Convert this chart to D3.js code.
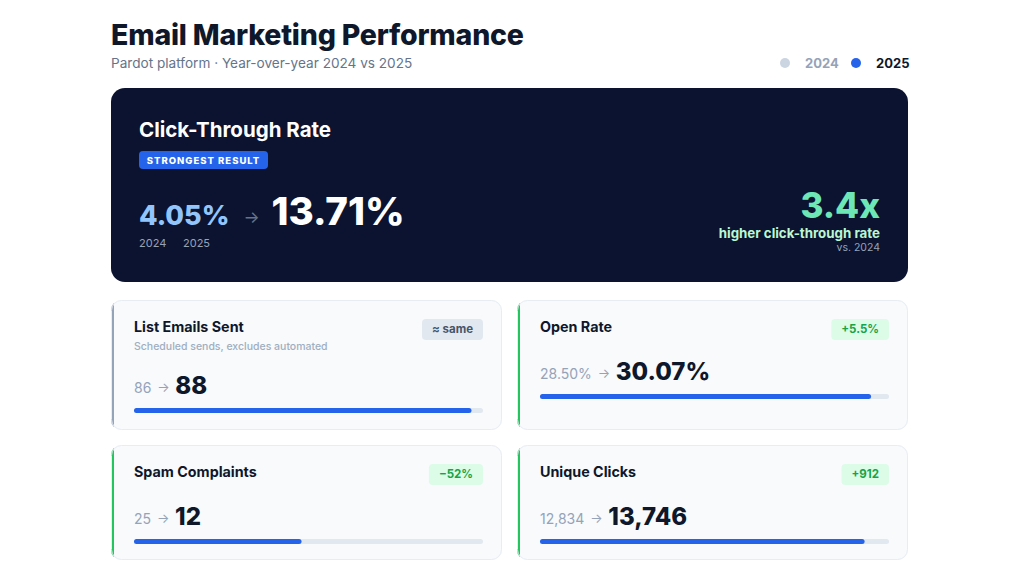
<!DOCTYPE html>
<html>
<head>
<meta charset="utf-8">
<script src="https://cdn.jsdelivr.net/npm/d3@7"></script>
<style>
  body { margin: 0; background: #fff; }
  svg { display: block; font-family: Inter, "Noto Sans", sans-serif; }
</style>
</head>
<body>
<div id="chart"></div>
<script>
// Hero metric
const heroLabel = "Click-Through Rate";
const heroValues = [4.05, 13.71]; // 2024, 2025
const heroMultiple = "3.4x";

// Small metric cards
const metricNames = ["List Emails Sent", "Open Rate", "Spam Complaints", "Unique Clicks"];
const metricNotes = ["Scheduled sends, excludes automated", "", "", ""];
const values2024 = [86, 28.5, 25, 12834];
const values2025 = [88, 30.07, 12, 13746];
const barMax = [91, 31.7, 25, 14780];
const changeLabels = ["≈ same", "+5.5%", "−52%", "+912"];
const changeTone = ["neutral", "good", "good", "good"];
const formats = [d3.format("d"), d => d.toFixed(2) + "%", d3.format("d"), d3.format(",")];
const years = ["2024", "2025"];

const W = 1024, H = 576;
const svg = d3.select("#chart").append("svg").attr("width", W).attr("height", H);
const defs = svg.append("defs");

// header
svg.append("text").attr("x", 111).attr("y", 45)
  .attr("font-size", 28.5).attr("font-weight", 800).attr("fill", "#0f172a")
  .attr("letter-spacing", -0.2).text("Email Marketing Performance");
svg.append("text").attr("x", 111).attr("y", 68)
  .attr("font-size", 13.6).attr("fill", "#64748b")
  .text("Pardot platform · Year-over-year 2024 vs 2025");

// legend
const legendColor = d3.scaleOrdinal().domain(years).range(["#cbd5e1", "#2563eb"]);
const legendText = d3.scaleOrdinal().domain(years).range(["#94a3b8", "#0f172a"]);
const legendX = d3.scalePoint().domain(years).range([785, 856]);
const lg = svg.selectAll("g.legend").data(years).join("g")
  .attr("transform", d => `translate(${legendX(d)},63)`);
lg.append("circle").attr("r", 5).attr("fill", d => legendColor(d));
lg.append("text").attr("x", 20).attr("y", 4.5)
  .attr("font-size", 13).attr("font-weight", 700)
  .attr("fill", d => legendText(d)).text(d => d);

// hero card
const hero = svg.append("g").attr("transform", "translate(111,88)");
hero.append("rect").attr("width", 797).attr("height", 194).attr("rx", 14).attr("fill", "#0c1330");
hero.append("text").attr("x", 28).attr("y", 49)
  .attr("font-size", 20.5).attr("font-weight", 700).attr("fill", "#fff")
  .text(heroLabel);
hero.append("rect").attr("x", 28).attr("y", 63).attr("width", 129).attr("height", 18)
  .attr("rx", 4).attr("fill", "#2563eb");
hero.append("text").attr("x", 28 + 129 / 2).attr("y", 75.5).attr("text-anchor", "middle")
  .attr("font-size", 9.5).attr("font-weight", 800).attr("letter-spacing", 1)
  .attr("fill", "#fff").text("STRONGEST RESULT");

const hOld = hero.append("text").attr("x", 28).attr("y", 137)
  .attr("font-size", 27).attr("font-weight", 800).attr("fill", "#93c5fd")
  .text(heroValues[0].toFixed(2) + "%");
const hOldW = hOld.node().getComputedTextLength();
hero.append("text").attr("x", 28 + hOldW + 14).attr("y", 135)
  .attr("font-size", 17).attr("fill", "#64748b").text("→");
hero.append("text").attr("x", 28 + hOldW + 42).attr("y", 137)
  .attr("font-size", 38.5).attr("font-weight", 800).attr("fill", "#fff")
  .text(heroValues[1].toFixed(2) + "%");
hero.selectAll("text.yr").data(years).join("text")
  .attr("x", (d, i) => 28 + i * 44).attr("y", 159)
  .attr("font-size", 11).attr("fill", "#94a3b8").text(d => d);

hero.append("text").attr("x", 769).attr("y", 130).attr("text-anchor", "end")
  .attr("font-size", 35).attr("font-weight", 800).attr("fill", "#6ee7b7").text(heroMultiple);
hero.append("text").attr("x", 769).attr("y", 150).attr("text-anchor", "end")
  .attr("font-size", 13.3).attr("font-weight", 700).attr("fill", "#bbf7d0")
  .text("higher click-through rate");
hero.append("text").attr("x", 769).attr("y", 163).attr("text-anchor", "end")
  .attr("font-size", 10.5).attr("fill", "#94a3b8").text("vs. " + years[0]);

// metric cards
const cardX = [111, 517, 111, 517];
const cardY = [300, 300, 445, 445];
const cardH = [130, 130, 115, 115];
const cardW = 391;
const pad = 23;
const trackW = cardW - pad - 19;

metricNames.forEach((name, i) => {
  const g = svg.append("g").attr("transform", `translate(${cardX[i]},${cardY[i]})`);
  const clipId = "clip" + i;
  defs.append("clipPath").attr("id", clipId).append("rect")
    .attr("width", cardW).attr("height", cardH[i]).attr("rx", 10);
  g.append("rect").attr("width", cardW).attr("height", cardH[i]).attr("rx", 10).attr("fill", "#f8fafc");
  const accent = changeTone[i] === "good" ? "#22c55e" : "#94a3b8";
  g.append("rect").attr("width", 3).attr("height", cardH[i])
    .attr("fill", accent).attr("clip-path", `url(#${clipId})`);
  g.append("rect").attr("x", 0.5).attr("y", 0.5).attr("width", cardW - 1).attr("height", cardH[i] - 1)
    .attr("rx", 10).attr("fill", "none").attr("stroke", "#e8edf3");

  g.append("text").attr("x", pad).attr("y", 32)
    .attr("font-size", 14.3).attr("font-weight", 700).attr("fill", "#0f172a").text(name);
  if (metricNotes[i]) {
    g.append("text").attr("x", pad).attr("y", 50)
      .attr("font-size", 10.5).attr("font-weight", 500).attr("fill", "#a0aec0").text(metricNotes[i]);
  }

  // change badge
  const bt = g.append("text").attr("y", 33).attr("text-anchor", "middle")
    .attr("font-size", 11.5).attr("font-weight", 700)
    .attr("fill", changeTone[i] === "good" ? "#16a34a" : "#475569").text(changeLabels[i]);
  const bw = bt.node().getComputedTextLength() + 20;
  const bx = cardW - 19 - bw;
  g.insert("rect", "text").attr("x", bx).attr("y", 19).attr("width", bw).attr("height", 21)
    .attr("rx", 4).attr("fill", changeTone[i] === "good" ? "#dcfce7" : "#e2e8f0");
  bt.attr("x", bx + bw / 2);

  // values
  const vy = metricNotes[i] ? 93 : 79;
  const old = g.append("text").attr("x", pad).attr("y", vy)
    .attr("font-size", 14).attr("fill", "#94a3b8").text(formats[i](values2024[i]));
  const ow = old.node().getComputedTextLength();
  g.append("text").attr("x", pad + ow + 6).attr("y", vy - 1)
    .attr("font-size", 13).attr("fill", "#94a3b8").text("→");
  g.append("text").attr("x", pad + ow + 24).attr("y", vy + 1)
    .attr("font-size", 24).attr("font-weight", 800).attr("fill", "#0f172a")
    .text(formats[i](values2025[i]));

  // bar
  const x = d3.scaleLinear().domain([0, barMax[i]]).range([0, trackW]);
  const by = vy + 15;
  g.append("rect").attr("x", pad).attr("y", by).attr("width", x(barMax[i])).attr("height", 5)
    .attr("rx", 2.5).attr("fill", "#e2e8f0");
  g.append("rect").attr("x", pad).attr("y", by).attr("width", x(values2025[i])).attr("height", 5)
    .attr("rx", 2.5).attr("fill", "#2563eb");
});
</script>
</body>
</html>
